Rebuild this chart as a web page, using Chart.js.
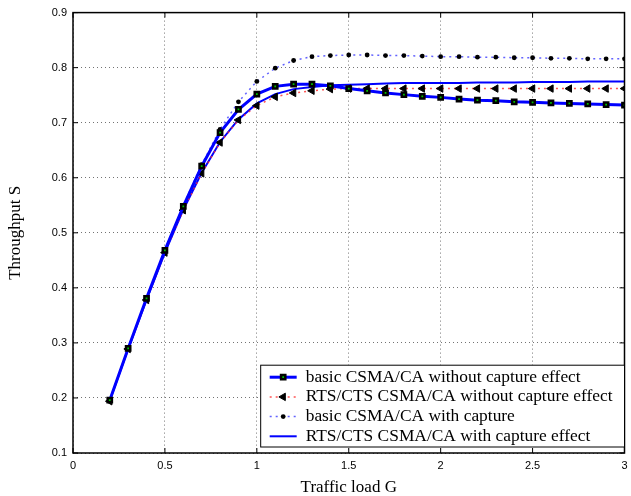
<!DOCTYPE html>
<html>
<head>
<meta charset="utf-8">
<script src="https://cdn.jsdelivr.net/npm/chart.js@4/dist/chart.umd.min.js"></script>
<style>
  html, body { margin: 0; padding: 0; background: #fff; }
  #wrap { width: 631px; height: 496px; }
</style>
</head>
<body>
<div id="wrap"><canvas id="chart" width="631" height="496"></canvas></div>
<script>
// Traffic load G (x values)
const loads = [0.2, 0.3, 0.4, 0.5, 0.6, 0.7, 0.8, 0.9, 1.0, 1.1, 1.2, 1.3, 1.4, 1.5, 1.6,
               1.7, 1.8, 1.9, 2.0, 2.1, 2.2, 2.3, 2.4, 2.5, 2.6, 2.7, 2.8, 2.9, 3.0];

// Throughput S per series
const basicNoCapture = [0.196, 0.290, 0.381, 0.468, 0.548, 0.621, 0.682, 0.724, 0.752, 0.766, 0.770, 0.770, 0.767, 0.762, 0.758,
                        0.754, 0.751, 0.748, 0.746, 0.743, 0.741, 0.740, 0.738, 0.737, 0.736, 0.735, 0.734, 0.733, 0.732];
const rtsNoCapture   = [0.194, 0.289, 0.378, 0.464, 0.541, 0.608, 0.664, 0.705, 0.731, 0.747, 0.754, 0.758, 0.761, 0.762, 0.762,
                        0.762, 0.762, 0.762, 0.762, 0.762, 0.762, 0.762, 0.762, 0.762, 0.762, 0.762, 0.762, 0.762, 0.762];
const basicCapture   = [0.196, 0.290, 0.381, 0.468, 0.550, 0.624, 0.688, 0.738, 0.775, 0.799, 0.813, 0.820, 0.822, 0.823, 0.823,
                        0.822, 0.822, 0.821, 0.820, 0.820, 0.819, 0.819, 0.818, 0.818, 0.817, 0.817, 0.816, 0.816, 0.816];
const rtsCapture     = [0.195, 0.289, 0.378, 0.464, 0.542, 0.609, 0.665, 0.706, 0.735, 0.752, 0.761, 0.765, 0.768, 0.769, 0.770,
                        0.771, 0.772, 0.772, 0.772, 0.772, 0.773, 0.773, 0.773, 0.774, 0.774, 0.774, 0.775, 0.775, 0.775];

const seriesLabels = [
  'basic CSMA/CA without capture effect',
  'RTS/CTS CSMA/CA without capture effect',
  'basic CSMA/CA with capture',
  'RTS/CTS CSMA/CA with capture effect'
];

const xTicks = [0, 0.5, 1, 1.5, 2, 2.5, 3];
const yTicks = [0.1, 0.2, 0.3, 0.4, 0.5, 0.6, 0.7, 0.8, 0.9];

const toPoints = vals => vals.map((v, i) => ({ x: loads[i], y: v }));

const TICK_FONT = { family: "'Liberation Sans', Arial, sans-serif", size: 11 };
const TITLE_FONT = { family: "'Liberation Serif', 'Times New Roman', serif", size: 17 };
const LEGEND_FONT = "17.4px 'Liberation Serif', 'Times New Roman', serif";

// MATLAB-style box with inward ticks + legend inside the plot
const boxPlugin = {
  id: 'matlabBox',
  afterDraw(chart) {
    const { ctx, chartArea: a, scales } = chart;
    ctx.save();
    ctx.strokeStyle = '#000';
    ctx.lineWidth = 1;
    const tl = 5;
    ctx.beginPath();
    xTicks.forEach(t => {
      const px = scales.x.getPixelForValue(t);
      ctx.moveTo(px, a.bottom); ctx.lineTo(px, a.bottom - tl);
      ctx.moveTo(px, a.top); ctx.lineTo(px, a.top + tl);
    });
    yTicks.forEach(t => {
      const py = scales.y.getPixelForValue(t);
      ctx.moveTo(a.left, py); ctx.lineTo(a.left + tl, py);
      ctx.moveTo(a.right, py); ctx.lineTo(a.right - tl, py);
    });
    ctx.stroke();
    ctx.lineWidth = 1.5;
    ctx.strokeRect(a.left, a.top, a.right - a.left, a.bottom - a.top);

    // legend
    ctx.font = LEGEND_FONT;
    const textW = Math.max(...seriesLabels.map(s => ctx.measureText(s).width));
    const rowH = 19.7;
    const boxW = 9 + 27 + 9 + textW + 12;
    const boxH = rowH * 4 + 3;
    const bx = a.right - boxW, by = a.bottom - 6 - boxH;
    ctx.fillStyle = '#fff';
    ctx.fillRect(bx, by, boxW, boxH);
    ctx.lineWidth = 1;
    ctx.strokeStyle = '#000';
    ctx.strokeRect(bx, by, boxW, boxH);

    chart.data.datasets.forEach((ds, i) => {
      const cy = by + 12 + i * rowH;
      const x0 = bx + 9, x1 = x0 + 27, xm = (x0 + x1) / 2;
      ctx.save();
      ctx.strokeStyle = ds.borderColor;
      ctx.lineWidth = ds.borderWidth;
      ctx.setLineDash(ds.borderDash || []);
      ctx.beginPath(); ctx.moveTo(x0, cy); ctx.lineTo(x1, cy); ctx.stroke();
      ctx.restore();
      if (ds.pointRadius > 0) {
        ctx.fillStyle = ds.pointBackgroundColor;
        ctx.strokeStyle = ds.pointBorderColor;
        ctx.lineWidth = ds.pointBorderWidth;
        Chart.helpers.drawPoint(ctx, {
          pointStyle: ds.pointStyle,
          rotation: ds.pointRotation || 0,
          radius: ds.pointRadius,
          borderWidth: ds.pointBorderWidth
        }, xm, cy);
      }
      ctx.fillStyle = '#000';
      ctx.textBaseline = 'middle';
      ctx.textAlign = 'left';
      ctx.font = LEGEND_FONT;
      ctx.fillText(seriesLabels[i], x1 + 9, cy);
    });
    ctx.restore();
  }
};

new Chart(document.getElementById('chart'), {
  type: 'line',
  data: {
    datasets: [
      {
        label: seriesLabels[0],
        data: toPoints(basicNoCapture),
        borderColor: '#0000ff',
        borderWidth: 3,
        pointStyle: 'rect',
        pointRadius: 3,
        pointBackgroundColor: '#00c000',
        pointBorderColor: '#000',
        pointBorderWidth: 2.5,
      },
      {
        label: seriesLabels[1],
        data: toPoints(rtsNoCapture),
        borderColor: 'rgba(255, 40, 40, 0.8)',
        borderWidth: 1.5,
        borderDash: [2, 4],
        pointStyle: 'triangle',
        pointRotation: -90,
        pointRadius: 4.3,
        pointBackgroundColor: '#000',
        pointBorderColor: '#000',
        pointBorderWidth: 1,
      },
      {
        label: seriesLabels[2],
        data: toPoints(basicCapture),
        borderColor: 'rgba(70, 70, 255, 0.85)',
        borderWidth: 1.5,
        borderDash: [2, 4],
        pointStyle: 'circle',
        pointRadius: 2.4,
        pointBackgroundColor: '#000',
        pointBorderColor: '#000',
        pointBorderWidth: 0,
      },
      {
        label: seriesLabels[3],
        data: toPoints(rtsCapture),
        borderColor: '#0000ff',
        borderWidth: 2,
        pointRadius: 0,
      }
    ]
  },
  options: {
    responsive: false,
    animation: false,
    layout: { padding: { top: 12, right: 2, left: 0, bottom: 0 } },
    elements: { line: { tension: 0, fill: false } },
    plugins: {
      legend: { display: false },
      tooltip: { enabled: false }
    },
    scales: {
      x: {
        type: 'linear',
        min: 0,
        max: 3,
        afterBuildTicks: s => { s.ticks = xTicks.map(v => ({ value: v })); },
        afterFit: s => { s.height = 43; s.paddingLeft = 0; s.paddingRight = 2; },
        ticks: {
          color: '#000',
          font: TICK_FONT,
          padding: 6,
          maxRotation: 0,
          callback: v => String(v)
        },
        grid: {
          drawTicks: false,
          color: 'rgba(0,0,0,0.55)',
          lineWidth: 1,
        },
        border: { display: false, dash: [1, 3] },
        title: {
          display: true,
          text: 'Traffic load G',
          color: '#000',
          font: TITLE_FONT,
          padding: { top: 0, bottom: -2 }
        }
      },
      y: {
        min: 0.1,
        max: 0.9,
        afterBuildTicks: s => { s.ticks = yTicks.map(v => ({ value: v })); },
        afterFit: s => { s.width = 73; },
        ticks: {
          color: '#000',
          font: TICK_FONT,
          padding: 6,
          callback: v => v.toFixed(1)
        },
        grid: {
          drawTicks: false,
          color: 'rgba(0,0,0,0.55)',
          lineWidth: 1,
        },
        border: { display: false, dash: [1, 3] },
        title: {
          display: true,
          text: 'Throughput S',
          color: '#000',
          font: TITLE_FONT,
          padding: { top: 5, bottom: 0 }
        }
      }
    }
  },
  plugins: [boxPlugin]
});
</script>
</body>
</html>
